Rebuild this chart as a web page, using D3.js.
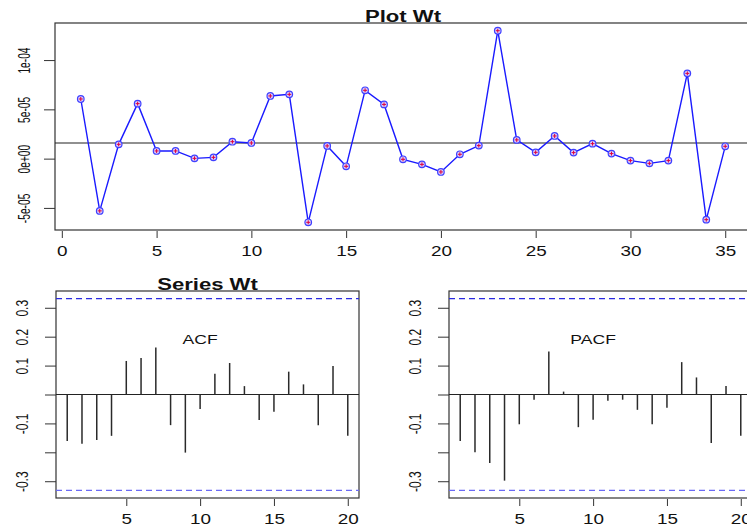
<!DOCTYPE html>
<html lang="en">
    <head>
        <title>Plot Wt</title>
        <script src="https://d3js.org/d3.v7.min.js"></script>
        <style>
            body { margin: 0; background: #fff; }
            svg text { font-family: "Liberation Sans", Arial, sans-serif; fill: #111; }
        </style>
    </head>
    <body>
    <div id="mainDiv"></div>

        <script type="text/javascript">
            // series Wt, t = 1..35
            const wt = [6.05e-5, -5.3e-5, 1.45e-5, 5.58e-5, 0.78e-5, 0.78e-5, 0.03e-5, 0.13e-5, 1.72e-5, 1.59e-5,
                        6.36e-5, 6.52e-5, -6.46e-5, 1.29e-5, -0.78e-5, 6.93e-5, 5.5e-5, -0.07e-5, -0.58e-5, -1.35e-5,
                        0.44e-5, 1.32e-5, 12.98e-5, 1.9e-5, 0.64e-5, 2.3e-5, 0.61e-5, 1.52e-5, 0.51e-5, -0.2e-5,
                        -0.48e-5, -0.2e-5, 8.65e-5, -6.19e-5, 1.25e-5]
            const wtMean = 1.59e-5

            // lags 1..20
            const acf = [-0.161, -0.170, -0.157, -0.143, 0.116, 0.126, 0.163, -0.106, -0.201, -0.050,
                         0.072, 0.109, 0.029, -0.088, -0.060, 0.079, 0.035, -0.106, 0.099, -0.143]
            const pacf = [-0.161, -0.200, -0.237, -0.298, -0.103, -0.018, 0.149, 0.010, -0.113, -0.087,
                          -0.022, -0.018, -0.053, -0.103, -0.046, 0.112, 0.059, -0.168, 0.029, -0.143]
            const ci = 0.3313

            const topXTicks = [0, 5, 10, 15, 20, 25, 30, 35]
            const topYTicks = [-5e-5, 0, 5e-5, 1e-4]
            const topYLabels = ['-5e-05', '0e+00', '5e-05', '1e-04']
            const lagTicks = [5, 10, 15, 20]
            const corTicks = [-0.3, -0.2, -0.1, 0, 0.1, 0.2, 0.3]
            const corLabels = ['-0.3', '', '-0.1', '', '0.1', '0.2', '0.3']

            const width = 747
            const height = 528
            const stretch = 1.35 // the picture is wider than R drew it

            const svg = d3.select('#mainDiv').append('svg')
                .attr('width', width)
                .attr('height', height)

            // yl = {size, stretch, offset} for the rotated y labels
            function drawAxes(g, x, y, xt, yt, ylab, box, yl) {
                const xAxis = d3.axisBottom(x).tickValues(xt).tickSize(7).tickPadding(8)
                const yAxis = d3.axisLeft(y).tickValues(yt).tickSize(11)
                    .tickFormat((d, i) => ylab[i])
                const gx = g.append('g')
                    .attr('transform', `translate(0, ${box.bottom + 1})`)
                    .call(xAxis)
                gx.select('.domain').remove()
                gx.selectAll('text')
                    .style('font-size', '14px')
                    .attr('transform', `scale(${stretch},1)`)
                const gy = g.append('g')
                    .attr('transform', `translate(${box.left}, 0)`)
                    .call(yAxis)
                gy.select('.domain').remove()
                gy.selectAll('text')
                    .style('font-size', yl.size + 'px')
                    .attr('x', null)
                    .attr('dy', '0.35em')
                    .attr('text-anchor', 'middle')
                    .attr('transform', `translate(${yl.offset},0) rotate(-90) scale(1,${yl.stretch})`)
                g.selectAll('.tick line').attr('stroke', '#333')
                g.append('rect')
                    .attr('x', box.left).attr('y', box.top)
                    .attr('width', box.right - box.left)
                    .attr('height', box.bottom - box.top)
                    .attr('fill', 'none')
                    .attr('stroke', '#333')
                    .attr('stroke-width', 1.2)
            }

            function title(text, cx, baseline) {
                svg.append('text')
                    .attr('transform', `translate(${cx}, ${baseline}) scale(1.38,1)`)
                    .attr('text-anchor', 'middle')
                    .style('font-size', '16px')
                    .style('font-weight', 'bold')
                    .text(text)
            }

            // ---- top: Plot Wt ----
            const tBox = {left: 55, right: 751, top: 23, bottom: 230}
            const xTop = d3.scaleLinear().domain([-0.36, 36.36]).range([tBox.left, tBox.right])
            const yTop = d3.scaleLinear().domain([-7.24e-5, 13.76e-5]).range([tBox.bottom, tBox.top])
            const topPanel = svg.append('g')
            drawAxes(topPanel, xTop, yTop, topXTicks, topYTicks, topYLabels, tBox,
                {size: 10.2, stretch: 1.6, offset: -31})

            topPanel.append('line')
                .attr('x1', tBox.left).attr('x2', tBox.right)
                .attr('y1', yTop(wtMean)).attr('y2', yTop(wtMean))
                .attr('stroke', '#222')
                .attr('stroke-width', 1.1)

            topPanel.append('path')
                .datum(wt)
                .attr('d', d3.line().x((d, i) => xTop(i + 1)).y(d => yTop(d)))
                .attr('fill', 'none')
                .attr('stroke', '#1a1aff')
                .attr('stroke-width', 1.4)

            topPanel.selectAll('circle')
                .data(wt)
                .enter()
                .append('circle')
                .attr('cx', (d, i) => xTop(i + 1))
                .attr('cy', d => yTop(d))
                .attr('r', 3.3)
                .attr('fill', '#d6ccff')
                .attr('stroke', '#4040ff')
                .attr('stroke-width', 1.2)

            topPanel.selectAll('path.plus')
                .data(wt)
                .enter()
                .append('path')
                .attr('class', 'plus')
                .attr('d', (d, i) => {
                    const cx = xTop(i + 1), cy = yTop(d)
                    return `M${cx - 2},${cy}H${cx + 2}M${cx},${cy - 2}V${cy + 2}`
                })
                .attr('stroke', '#e0003a')
                .attr('stroke-width', 1)

            title('Plot Wt', (tBox.left + tBox.right) / 2, 22)

            // ---- bottom: ACF and PACF ----
            function corPanel(values, left, right, label) {
                const box = {left: left, right: right, top: 291, bottom: 498}
                const x = d3.scaleLinear().domain([0.24, 20.76]).range([box.left, box.right])
                const y = d3.scaleLinear().domain([-0.358, 0.358]).range([box.bottom, box.top])
                const g = svg.append('g')
                drawAxes(g, x, y, lagTicks, corTicks, corLabels, box,
                    {size: 12, stretch: 1.4, offset: -34})

                g.append('line')
                    .attr('x1', box.left).attr('x2', box.right)
                    .attr('y1', y(0)).attr('y2', y(0))
                    .attr('stroke', '#222')
                    .attr('stroke-width', 1.2)

                g.selectAll('line.spike')
                    .data(values)
                    .enter()
                    .append('line')
                    .attr('class', 'spike')
                    .attr('x1', (d, i) => x(i + 1)).attr('x2', (d, i) => x(i + 1))
                    .attr('y1', y(0)).attr('y2', d => y(d))
                    .attr('stroke', '#2a2a2a')
                    .attr('stroke-width', 1.5)

                g.selectAll('line.ci')
                    .data([ci, -ci])
                    .enter()
                    .append('line')
                    .attr('class', 'ci')
                    .attr('x1', box.left).attr('x2', box.right)
                    .attr('y1', d => y(d)).attr('y2', d => y(d))
                    .attr('stroke', (d, i) => i === 0 ? '#2a2ae0' : '#6a6af5')
                    .attr('stroke-width', 1.2)
                    .attr('stroke-dasharray', '6,4')

                g.append('text')
                    .attr('transform', `translate(${x(10)}, 344) scale(${stretch},1)`)
                    .attr('text-anchor', 'middle')
                    .style('font-size', '13px')
                    .text(label)
                return box
            }

            const acfBox = corPanel(acf, 56, 359, 'ACF')
            corPanel(pacf, 449, 752, 'PACF')
            title('Series Wt', (acfBox.left + acfBox.right) / 2, 290)

        </script>
    </body>
</html>
